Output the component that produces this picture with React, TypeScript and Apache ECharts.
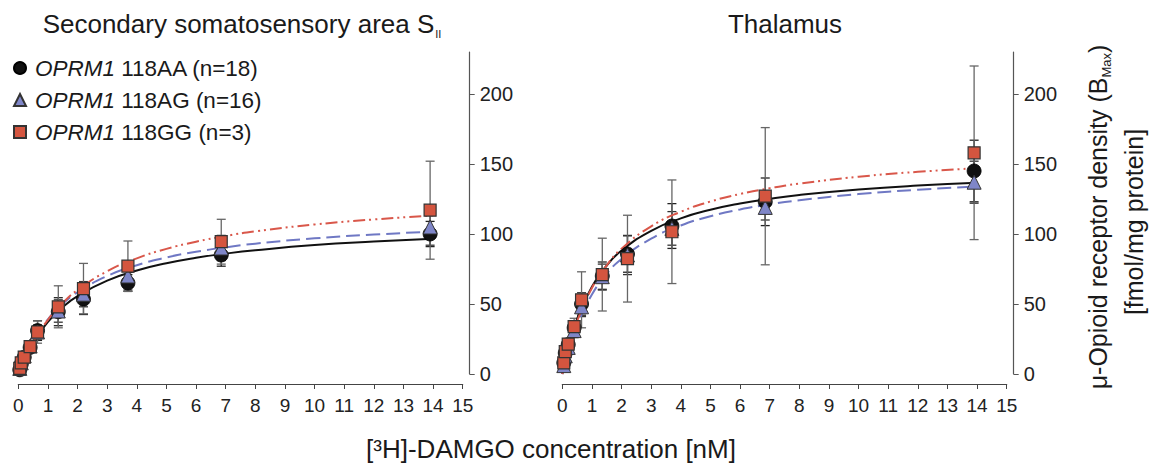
import React, { useEffect, useRef } from "react";
import * as echarts from "echarts";

// DAMGO concentrations [nM]
const conc = [0.05, 0.1, 0.2, 0.4, 0.65, 1.35, 2.2, 3.7, 6.85, 13.9];

// Secondary somatosensory area SII
const s2AA = [3, 7, 12, 19, 31, 44.5, 53.5, 65, 85, 100];
const s2AAerr = [1, 1.5, 2, 3, 7, 10, 11, 6, 8, 9];
const s2AG = [4, 8, 13, 20, 30, 45, 57, 70, 90, 105];
const s2AGerr = [1, 1.5, 2, 3, 5, 8, 9, 10, 9, 13];
const s2GG = [4, 8, 12, 19.5, 30, 48, 61, 77, 94.5, 117];
const s2GGerr = [1, 2, 3, 4, 8, 15, 18, 18, 16, 35];

// Thalamus
const thAA = [8, 15, 21, 33, 50, 70, 85.7, 105.7, 123, 145];
const thAAerr = [2, 3, 4, 5, 8, 10, 13, 16, 17, 22];
const thAG = [6, 13, 19, 31, 48, 69.5, 85, 104, 119, 137];
const thAGerr = [2, 3, 4, 5, 7, 9, 14, 12, 9, 15];
const thGG = [8, 16, 21.4, 33.8, 53, 71, 82.4, 101.6, 127, 158];
const thGGerr = [2, 3, 4, 6, 20, 26, 31, 37, 49, 62];

// fitted saturation curves
const fitX = [0, 0.25, 0.5, 1, 1.5, 2, 3, 4, 5, 6, 7, 8, 10, 12, 14];
const s2AAfit = [0, 12.5, 22.4, 37.3, 47.8, 55.7, 66.7, 73.9, 79.1, 83.0, 86.0, 88.4, 92.1, 94.6, 96.6];
const s2AGfit = [0, 13.1, 23.5, 39.1, 50.1, 58.4, 70.0, 77.7, 83.2, 87.3, 90.5, 93.1, 96.9, 99.6, 101.7];
const s2GGfit = [0, 12.4, 22.7, 38.7, 50.7, 60.0, 73.4, 82.6, 89.4, 94.5, 98.6, 101.9, 106.8, 110.4, 113.2];
const thAAfit = [0, 22.7, 39.4, 62.4, 77.5, 88.2, 102.3, 111.2, 117.3, 121.8, 125.2, 127.9, 131.8, 134.6, 136.6];
const thAGfit = [0, 19.8, 35.0, 56.7, 71.5, 82.2, 96.7, 106.1, 112.7, 117.5, 121.2, 124.1, 128.5, 131.6, 133.9];
const thGGfit = [0, 21.3, 37.8, 61.4, 77.6, 89.5, 105.5, 115.9, 123.2, 128.6, 132.7, 136.0, 140.9, 144.4, 147.0];

const xTicks = [0, 1, 2, 3, 4, 5, 6, 7, 8, 9, 10, 11, 12, 13, 14, 15];
const yTicks = [0, 50, 100, 150, 200];

const genotypes = ["AA", "AG", "GG"];
const legendLabels = ["118AA (n=18)", "118AG (n=16)", "118GG (n=3)"];

const FONT = "'Liberation Sans', Arial, Helvetica, sans-serif";
const C_AA = "#111111";
const C_AG = "#7f86c8";
const C_GG = "#d4553f";
const L_AG = "#6f78c4";
const L_GG = "#d9574a";

function errSeries(gi: number, ys: number[], es: number[], color: string) {
  return {
    type: "custom",
    xAxisIndex: gi,
    yAxisIndex: gi,
    silent: true,
    z: 1,
    data: conc.map((x, i) => [x, ys[i] - es[i], ys[i] + es[i]]),
    encode: { x: 0, y: [1, 2] },
    renderItem: (params: any, api: any) => {
      const x = api.value(0);
      const lo = api.coord([x, api.value(1)]);
      const hi = api.coord([x, api.value(2)]);
      const hw = 4.5;
      const style = { stroke: color, lineWidth: 1.3 };
      return {
        type: "group",
        children: [
          { type: "line", shape: { x1: lo[0], y1: lo[1], x2: hi[0], y2: hi[1] }, style },
          { type: "line", shape: { x1: lo[0] - hw, y1: lo[1], x2: lo[0] + hw, y2: lo[1] }, style },
          { type: "line", shape: { x1: hi[0] - hw, y1: hi[1], x2: hi[0] + hw, y2: hi[1] }, style },
        ],
      };
    },
  };
}

function fitSeries(gi: number, ys: number[], color: string, type: any, width: number) {
  return {
    type: "line",
    name: "fit" + gi + color,
    xAxisIndex: gi,
    yAxisIndex: gi,
    data: fitX.map((x, i) => [x, ys[i]]),
    smooth: true,
    showSymbol: false,
    symbol: "none",
    silent: true,
    z: 2,
    lineStyle: { color, width, type },
  };
}

function pointSeries(gi: number, name: string, ys: number[]) {
  const sym: any = {
    AA: { symbol: "circle", symbolSize: 14, itemStyle: { color: C_AA, borderColor: "#000", borderWidth: 0.8, opacity: 1 } },
    AG: { symbol: "triangle", symbolSize: 14, itemStyle: { color: C_AG, borderColor: "#333", borderWidth: 1, opacity: 1 } },
    GG: { symbol: "rect", symbolSize: 12, itemStyle: { color: C_GG, borderColor: "#333", borderWidth: 1.2, opacity: 1 } },
  }[name];
  return {
    type: "scatter",
    name,
    xAxisIndex: gi,
    yAxisIndex: gi,
    data: conc.map((x, i) => [x, ys[i]]),
    z: 3,
    ...sym,
  };
}

function xAxis(gi: number) {
  return {
    type: "value",
    gridIndex: gi,
    min: 0,
    max: 15,
    interval: 1,
    offset: 10,
    axisLine: { show: true, onZero: false, lineStyle: { color: "#444", width: 1.2 } },
    axisTick: { show: true, length: 5, lineStyle: { color: "#444", width: 1 } },
    axisLabel: {
      fontSize: 19,
      color: "#222",
      margin: 12,
      fontFamily: FONT,
      customValues: xTicks,
    },
    splitLine: { show: false },
  };
}

function yAxis(gi: number) {
  return {
    type: "value",
    gridIndex: gi,
    position: "right",
    min: 0,
    max: 230,
    interval: 50,
    offset: 7,
    axisLine: { show: true, onZero: false, lineStyle: { color: "#555", width: 1.2 } },
    axisTick: { show: true, length: 5, lineStyle: { color: "#555" }, customValues: yTicks },
    axisLabel: { fontSize: 20, color: "#222", margin: 10, fontFamily: FONT, customValues: yTicks },
    splitLine: { show: false },
  };
}

export default function App() {
  const ref = useRef<HTMLDivElement>(null);
  useEffect(() => {
    if (!ref.current) return;
    const chart = echarts.init(ref.current, null, { renderer: "svg" });
    const option: any = {
      animation: false,
      backgroundColor: "#fff",
      textStyle: { fontFamily: FONT },
      grid: [
        { left: 18.3, top: 52, width: 444.4, height: 322 },
        { left: 562.3, top: 52, width: 444.4, height: 322 },
      ],
      xAxis: [xAxis(0), xAxis(1)],
      yAxis: [yAxis(0), yAxis(1)],
      legend: {
        data: genotypes,
        orient: "vertical",
        left: 13,
        top: 56,
        padding: 0,
        itemGap: 8,
        itemWidth: 12,
        itemHeight: 12,
        selectedMode: false,
        formatter: (name: string) => "{i|OPRM1} " + legendLabels[genotypes.indexOf(name)],
        textStyle: {
          fontSize: 22.5,
          color: "#1a1a1a",
          fontFamily: FONT,
          lineHeight: 24,
          padding: [0, 0, 0, 4],
          rich: { i: { fontStyle: "italic", fontSize: 22.5, fontFamily: FONT, color: "#1a1a1a" } },
        },
      },
      graphic: [
        {
          type: "text",
          x: 242,
          y: 24,
          style: {
            text: "{a|Secondary somatosensory area S}{s|II}",
            align: "center",
            verticalAlign: "middle",
            rich: {
              a: { fontSize: 26, fontFamily: FONT, fill: "#1a1a1a", lineHeight: 30 },
              s: { fontSize: 11, fontFamily: FONT, fill: "#1a1a1a", verticalAlign: "bottom", lineHeight: 14, padding: [0, 0, 0, 1] },
            },
          },
        },
        {
          type: "text",
          x: 785,
          y: 24,
          style: { text: "Thalamus", font: "26px " + FONT, fill: "#1a1a1a", align: "center", verticalAlign: "middle" },
        },
        {
          type: "text",
          x: 551,
          y: 449,
          style: {
            text: "[³H]-DAMGO concentration [nM]",
            font: "26px " + FONT,
            fill: "#1a1a1a",
            align: "center",
            verticalAlign: "middle",
          },
        },
        {
          type: "text",
          x: 1098,
          y: 217,
          rotation: Math.PI / 2,
          style: {
            text: "{a|μ-Opioid receptor density (B}{s|Max}{a|)}",
            align: "center",
            verticalAlign: "middle",
            rich: {
              a: { fontSize: 25, fontFamily: FONT, fill: "#1a1a1a", lineHeight: 30 },
              s: { fontSize: 13, fontFamily: FONT, fill: "#1a1a1a", verticalAlign: "bottom", lineHeight: 14 },
            },
          },
        },
        {
          type: "text",
          x: 1134,
          y: 222,
          rotation: Math.PI / 2,
          style: { text: "[fmol/mg protein]", font: "25px " + FONT, fill: "#1a1a1a", align: "center", verticalAlign: "middle" },
        },
      ],
      series: [
        errSeries(0, s2AA, s2AAerr, "#222"),
        errSeries(0, s2AG, s2AGerr, "#333"),
        errSeries(0, s2GG, s2GGerr, "#666"),
        errSeries(1, thAA, thAAerr, "#222"),
        errSeries(1, thAG, thAGerr, "#333"),
        errSeries(1, thGG, thGGerr, "#666"),
        fitSeries(0, s2AAfit, "#111", "solid", 2),
        fitSeries(0, s2AGfit, L_AG, [14, 6], 2),
        fitSeries(0, s2GGfit, L_GG, [12, 4, 2, 4, 2, 4], 2),
        fitSeries(1, thAAfit, "#111", "solid", 2),
        fitSeries(1, thAGfit, L_AG, [14, 6], 2),
        fitSeries(1, thGGfit, L_GG, [12, 4, 2, 4, 2, 4], 2),
        pointSeries(0, "AA", s2AA),
        pointSeries(0, "AG", s2AG),
        pointSeries(0, "GG", s2GG),
        pointSeries(1, "AA", thAA),
        pointSeries(1, "AG", thAG),
        pointSeries(1, "GG", thGG),
      ],
    };
    chart.setOption(option);
    return () => chart.dispose();
  }, []);
  return <div ref={ref} style={{ width: 1150, height: 466, position: "absolute", left: 0, top: 0 }} />;
}
